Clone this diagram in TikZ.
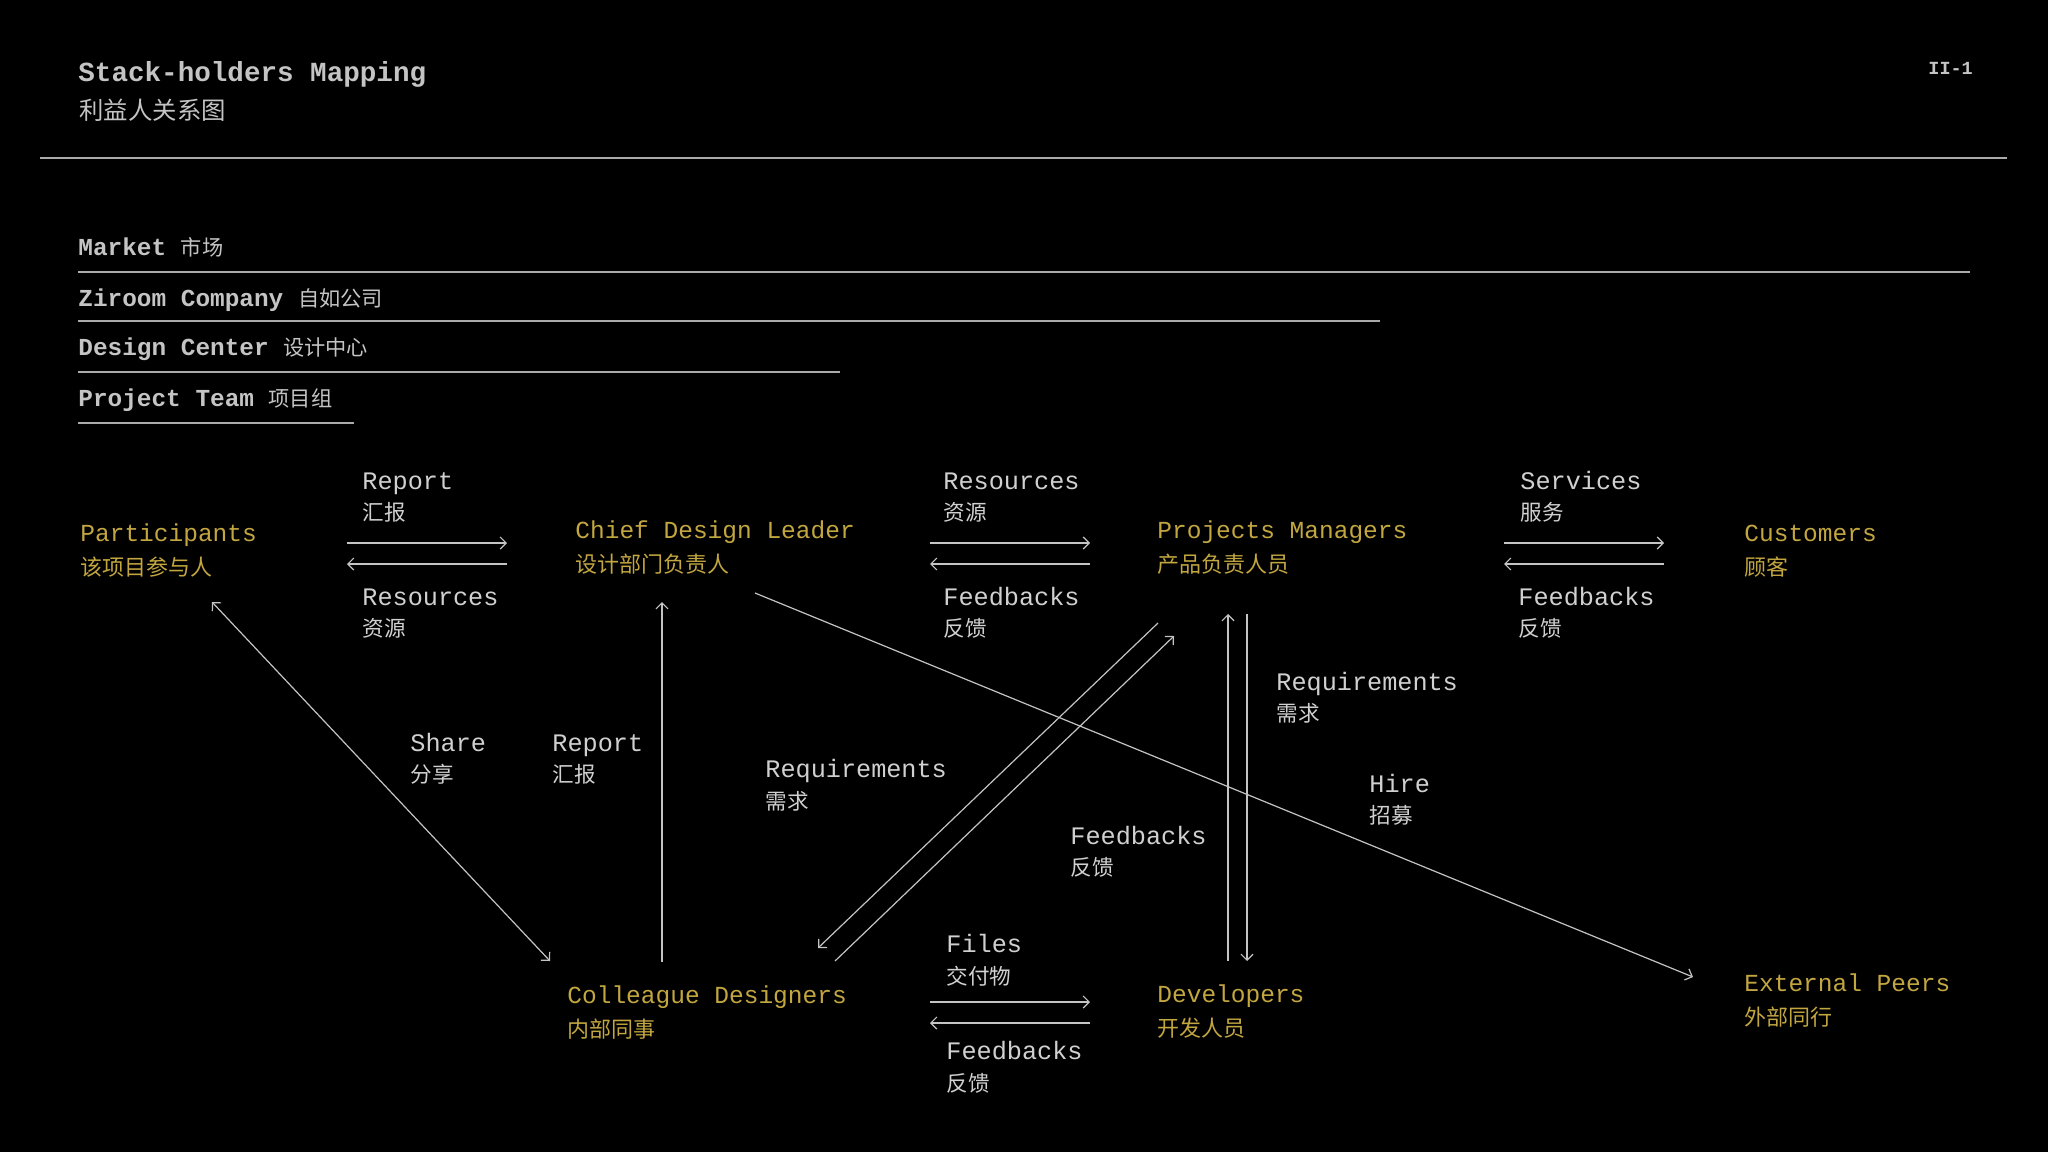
\documentclass[tikz,border=0pt]{standalone}
\usepackage{fontspec}
\setmainfont{Liberation Mono}
\newfontfamily\mono{Liberation Mono}
\newfontfamily\cjk{Noto Sans CJK SC}
\usetikzlibrary{arrows.meta}
\definecolor{gold}{RGB}{194,166,64}
\definecolor{lbl}{RGB}{208,208,208}
\definecolor{ttl}{RGB}{196,196,196}
\definecolor{linec}{RGB}{196,196,196}
\definecolor{rulec}{RGB}{170,170,170}
\tikzset{
  en/.style={anchor=base west, inner sep=0pt, text=lbl, font=\mono\fontsize{12.6}{14}\selectfont},
  zh/.style={anchor=base west, inner sep=0pt, text=lbl, font=\cjk\fontsize{10.8}{13}\selectfont},
  nen/.style={anchor=base west, inner sep=0pt, text=gold, font=\mono\fontsize{12.25}{14}\selectfont},
  nzh/.style={anchor=base west, inner sep=0pt, text=gold, font=\cjk\fontsize{11}{13}\selectfont},
  legend/.style={anchor=base west, inner sep=0pt, text=ttl, font=\mono\fontsize{12.2}{14}\selectfont},
  conn/.style={draw=linec, line width=0.6pt, -{Straight Barb[length=3pt,width=6pt]}},
  bconn/.style={draw=linec, line width=0.6pt, {Straight Barb[length=3pt,width=6pt]}-{Straight Barb[length=3pt,width=6pt]}},
  legline/.style={draw=rulec, line width=0.65pt},
}
\newcommand{\zhleg}[1]{{\mdseries\cjk\fontsize{10.6}{13}\selectfont #1}}
\begin{document}
\begin{tikzpicture}[x=0.5pt,y=-0.5pt]
\fill[black] (0,0) rectangle (2048,1152);
\useasboundingbox (0,0) rectangle (2048,1152);

% header
\node[anchor=base west, inner sep=0pt, text=ttl, font=\mono\bfseries\fontsize{13.8}{16}\selectfont] (title) at (78,81) {Stack-holders Mapping};
\node[anchor=base west, inner sep=0pt, text=ttl, font=\cjk\fontsize{12.2}{14}\selectfont] (subtitle) at (79,119) {利益人关系图};
\node[anchor=base west, inner sep=0pt, text=ttl, font=\mono\bfseries\fontsize{9.25}{11}\selectfont] (page) at (1928,74) {II-1};
\draw[draw=rulec, line width=1.15pt] (40,158) -- (2007,158);

% legend
\node[legend] (market) at (78,255) {{\bfseries Market} \zhleg{市场}};
\draw[legline] (78,272) -- (1970,272);
\node[legend] (ziroom) at (78,306) {{\bfseries Ziroom Company} \zhleg{自如公司}};
\draw[legline] (78,321) -- (1380,321);
\node[legend] (design) at (78,355) {{\bfseries Design Center} \zhleg{设计中心}};
\draw[legline] (78,372) -- (840,372);
\node[legend] (team) at (78,406) {{\bfseries Project Team} \zhleg{项目组}};
\draw[legline] (78,423) -- (354,423);

% stakeholder nodes
\node[nen] (part) at (80,541) {Participants};
\node[nzh] (partzh) at (80,575) {该项目参与人};
\node[nen] (chief) at (575,538) {Chief Design Leader};
\node[nzh] (chiefzh) at (575,572) {设计部门负责人};
\node[nen] (pm) at (1157,538) {Projects Managers};
\node[nzh] (pmzh) at (1157,572) {产品负责人员};
\node[nen] (cust) at (1744,541) {Customers};
\node[nzh] (custzh) at (1744,575) {顾客};
\node[nen] (coll) at (567,1003) {Colleague Designers};
\node[nzh] (collzh) at (567,1037) {内部同事};
\node[nen] (dev) at (1157,1002) {Developers};
\node[nzh] (devzh) at (1157,1036) {开发人员};
\node[nen] (ext) at (1744,991) {External Peers};
\node[nzh] (extzh) at (1744,1025) {外部同行};

% connector end points
\coordinate (pcR1) at (347,543); \coordinate (pcR2) at (507,543);
\coordinate (pcL1) at (507,564); \coordinate (pcL2) at (347,564);
\coordinate (cpR1) at (930,543); \coordinate (cpR2) at (1090,543);
\coordinate (cpL1) at (1090,564); \coordinate (cpL2) at (930,564);
\coordinate (pkR1) at (1504,543); \coordinate (pkR2) at (1664,543);
\coordinate (pkL1) at (1664,564); \coordinate (pkL2) at (1504,564);
\coordinate (cdR1) at (930,1002); \coordinate (cdR2) at (1090,1002);
\coordinate (cdL1) at (1090,1023); \coordinate (cdL2) at (930,1023);
\coordinate (shA) at (212,602); \coordinate (shB) at (550,961);
\coordinate (rpA) at (662,962); \coordinate (rpB) at (662,602);
\coordinate (hiA) at (755,593); \coordinate (hiB) at (1693,977);
\coordinate (pmcA) at (1158,623); \coordinate (pmcB) at (818,948);
\coordinate (cpmA) at (835,961); \coordinate (cpmB) at (1174,636);
\coordinate (dvU1) at (1228,961); \coordinate (dvU2) at (1228,614);
\coordinate (dvD1) at (1247,614); \coordinate (dvD2) at (1247,961);

% connectors
\draw[conn] (pcR1) -- (pcR2);
\draw[conn] (pcL1) -- (pcL2);
\draw[conn] (cpR1) -- (cpR2);
\draw[conn] (cpL1) -- (cpL2);
\draw[conn] (pkR1) -- (pkR2);
\draw[conn] (pkL1) -- (pkL2);
\draw[conn] (cdR1) -- (cdR2);
\draw[conn] (cdL1) -- (cdL2);
\draw[bconn] (shA) -- (shB);
\draw[conn] (rpA) -- (rpB);
\draw[conn] (hiA) -- (hiB);
\draw[conn] (pmcA) -- (pmcB);
\draw[conn] (cpmA) -- (cpmB);
\draw[conn] (dvU1) -- (dvU2);
\draw[conn] (dvD1) -- (dvD2);

% connector labels
\node[en] (l1) at (362,489) {Report};
\node[zh] (l1z) at (362,520) {汇报};
\node[en] (l2) at (362,605) {Resources};
\node[zh] (l2z) at (362,636) {资源};
\node[en] (l3) at (943,489) {Resources};
\node[zh] (l3z) at (943,520) {资源};
\node[en] (l4) at (943,605) {Feedbacks};
\node[zh] (l4z) at (943,636) {反馈};
\node[en] (l5) at (1520,489) {Services};
\node[zh] (l5z) at (1520,520) {服务};
\node[en] (l6) at (1518,605) {Feedbacks};
\node[zh] (l6z) at (1518,636) {反馈};
\node[en] (l7) at (410,751) {Share};
\node[zh] (l7z) at (410,782) {分享};
\node[en] (l8) at (552,751) {Report};
\node[zh] (l8z) at (552,782) {汇报};
\node[en] (l9) at (765,777) {Requirements};
\node[zh] (l9z) at (765,809) {需求};
\node[en] (l10) at (1070,844) {Feedbacks};
\node[zh] (l10z) at (1070,875) {反馈};
\node[en] (l11) at (1276,690) {Requirements};
\node[zh] (l11z) at (1276,721) {需求};
\node[en] (l12) at (1369,792) {Hire};
\node[zh] (l12z) at (1369,823) {招募};
\node[en] (l13) at (946,952) {Files};
\node[zh] (l13z) at (946,984) {交付物};
\node[en] (l14) at (946,1059) {Feedbacks};
\node[zh] (l14z) at (946,1091) {反馈};
\end{tikzpicture}
\end{document}
